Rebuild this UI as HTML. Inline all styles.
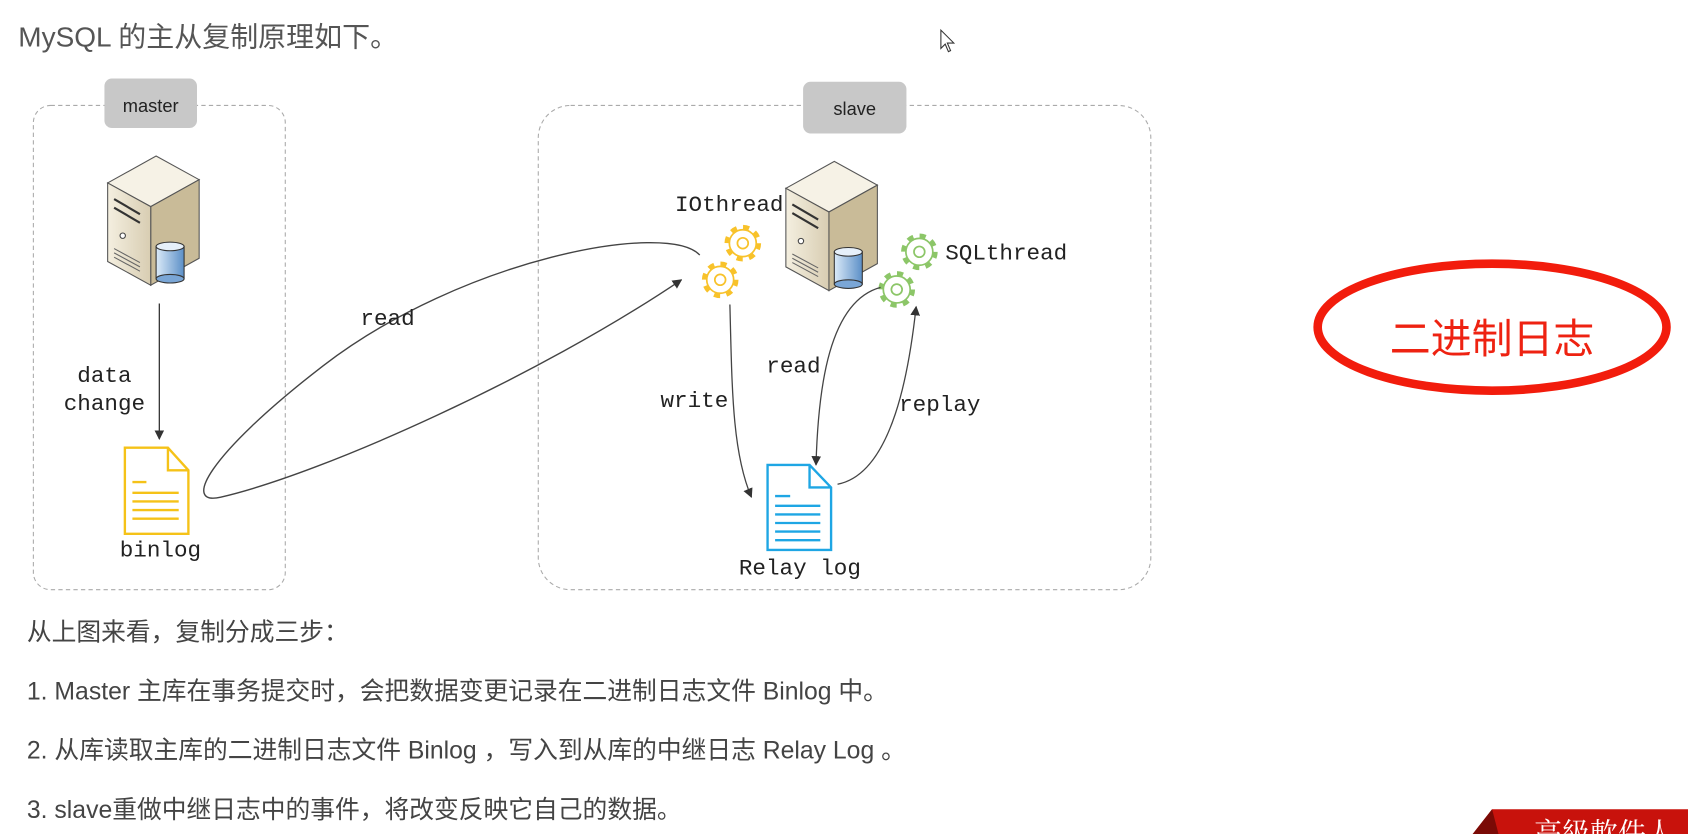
<!DOCTYPE html>
<html><head><meta charset="utf-8"><style>
html,body{margin:0;padding:0;background:#fff;}
svg{display:block;}
</style></head><body>
<svg width="1688" height="834" viewBox="0 0 1568 775" preserveAspectRatio="none" xmlns="http://www.w3.org/2000/svg">
<defs>
<marker id="ah" viewBox="0 0 10 10" refX="9" refY="5" markerWidth="9" markerHeight="9" orient="auto-start-reverse" markerUnits="userSpaceOnUse"><path d="M0,0 L10,5 L0,10 z" fill="#333"/></marker>
<linearGradient id="sv" x1="0" x2="1"><stop offset="0" stop-color="#f4efe0"/><stop offset="1" stop-color="#d8cdb2"/></linearGradient>
<linearGradient id="db" x1="0" x2="1"><stop offset="0" stop-color="#dbeaf8"/><stop offset="1" stop-color="#5b8fc7"/></linearGradient>
<g id="server">
<polygon points="0,25 45,0 85,22 40,47" fill="#f6f2e6" stroke="#555" stroke-width="1"/>
<polygon points="40,47 85,22 85,95 40,120" fill="#c9bb98" stroke="#555" stroke-width="1"/>
<polygon points="0,25 40,47 40,120 0,98" fill="url(#sv)" stroke="#555" stroke-width="1"/>
<path d="M6,40 L30,54 M6,48 L30,62" stroke="#333" stroke-width="2"/>
<circle cx="14" cy="74" r="2.5" fill="#fff" stroke="#444"/>
<path d="M6,86 L30,99 M6,90 L30,103 M6,94 L30,107" stroke="#666" stroke-width="1"/>
<rect x="45" y="84" width="26" height="30" fill="url(#db)" stroke="#333"/>
<ellipse cx="58" cy="114" rx="13" ry="4" fill="#7aa6d6" stroke="#333"/>
<ellipse cx="58" cy="84" rx="13" ry="4" fill="#e6f0fa" stroke="#333"/>
</g>
<g id="gear">
<circle r="15" fill="none" stroke="currentColor" stroke-width="4" stroke-dasharray="5.8 6"/>
<circle r="12.5" fill="#fff" stroke="currentColor" stroke-width="1.6"/>
<circle r="5" fill="none" stroke="currentColor" stroke-width="1.6"/>
</g>
</defs>

<text x="17" y="43" font-family="Liberation Sans, Noto Sans CJK SC, sans-serif" font-size="26" fill="#555">MySQL 的主从复制原理如下。</text>

<path d="M874,28 L874,45 L878,41 L881,48 L883,47 L880,40 L886,40 z" fill="#fff" stroke="#333" stroke-width="1"/>

<rect x="31" y="98" width="234" height="450" rx="16" fill="none" stroke="#aaa" stroke-width="1" stroke-dasharray="4 3"/>
<rect x="97" y="73" width="86" height="46" rx="7" fill="#c8c8c8"/>
<text x="140" y="104" text-anchor="middle" font-family="Liberation Sans, sans-serif" font-size="17" fill="#222">master</text>
<use href="#server" x="100" y="145"/>

<rect x="500" y="98" width="569" height="450" rx="30" fill="none" stroke="#aaa" stroke-width="1" stroke-dasharray="4 3"/>
<rect x="746" y="76" width="96" height="48" rx="7" fill="#c8c8c8"/>
<text x="794" y="107" text-anchor="middle" font-family="Liberation Sans, sans-serif" font-size="17" fill="#222">slave</text>
<use href="#server" x="730" y="150"/>

<path d="M116,416 L156,416 L175,437 L175,496 L116,496 z M156,416 L156,437 L175,437" fill="#fff" stroke="#f5c218" stroke-width="2.2"/>
<path d="M123,448 L136,448 M123,458 L166,458 M123,466 L166,466 M123,474 L166,474 M123,482 L166,482" stroke="#f5c218" stroke-width="2.2"/>
<text x="149" y="517" text-anchor="middle" font-family="Liberation Mono, monospace" font-size="21" fill="#222">binlog</text>

<path d="M713,432 L752,432 L772,453 L772,511 L713,511 z M752,432 L752,453 L772,453" fill="#fff" stroke="#1ea6e4" stroke-width="2.2"/>
<path d="M720,461 L734,461 M720,470 L762,470 M720,478 L762,478 M720,486 L762,486 M720,494 L762,494 M720,502 L762,502" stroke="#1ea6e4" stroke-width="2.2"/>
<text x="743" y="534" text-anchor="middle" font-family="Liberation Mono, monospace" font-size="21" fill="#222">Relay log</text>

<use href="#gear" x="690" y="226" color="#f8c22a"/>
<use href="#gear" x="669" y="260" color="#f8c22a"/>
<use href="#gear" x="854" y="234" color="#8cc668"/>
<use href="#gear" x="833" y="269" color="#8cc668"/>
<text x="627" y="196" font-family="Liberation Mono, monospace" font-size="21" fill="#222">IOthread</text>
<text x="878" y="241" font-family="Liberation Mono, monospace" font-size="21" fill="#222">SQLthread</text>

<line x1="148" y1="282" x2="148" y2="408" stroke="#333" stroke-width="1.2" marker-end="url(#ah)"/>
<text x="97" y="355" text-anchor="middle" font-family="Liberation Mono, monospace" font-size="21" fill="#222">data</text>
<text x="97" y="381" text-anchor="middle" font-family="Liberation Mono, monospace" font-size="21" fill="#222">change</text>

<path d="M650,237 C620,205 430,240 300,340 C190,425 170,470 205,462 C300,440 500,350 633,260" fill="none" stroke="#444" stroke-width="1.3" marker-end="url(#ah)"/>
<text x="360" y="302" text-anchor="middle" font-family="Liberation Mono, monospace" font-size="21" fill="#222">read</text>

<path d="M678,283 C680,360 680,420 698,462" fill="none" stroke="#444" stroke-width="1.2" marker-end="url(#ah)"/>
<text x="645" y="378" text-anchor="middle" font-family="Liberation Mono, monospace" font-size="21" fill="#222">write</text>

<path d="M818,267 C770,280 760,360 758,432" fill="none" stroke="#444" stroke-width="1.2" marker-end="url(#ah)"/>
<text x="737" y="346" text-anchor="middle" font-family="Liberation Mono, monospace" font-size="21" fill="#222">read</text>

<path d="M778,450 C830,440 845,340 851,285" fill="none" stroke="#444" stroke-width="1.2" marker-end="url(#ah)"/>
<text x="873" y="382" text-anchor="middle" font-family="Liberation Mono, monospace" font-size="21" fill="#222">replay</text>

<ellipse cx="1386" cy="304" rx="162" ry="59" fill="none" stroke="#f21c0c" stroke-width="8"/>
<text x="1386" y="328" text-anchor="middle" font-family="Noto Sans CJK SC, sans-serif" font-size="38" fill="#ee2211">二进制日志</text>

<g font-family="Liberation Sans, Noto Sans CJK SC, sans-serif" font-size="23" fill="#444">
<text x="25" y="595">从上图来看，复制分成三步：</text>
<text x="25" y="650">1.  Master 主库在事务提交时，会把数据变更记录在二进制日志文件 Binlog 中。</text>
<text x="25" y="705">2.  从库读取主库的二进制日志文件 Binlog ，写入到从库的中继日志 Relay Log 。</text>
<text x="25" y="760">3.  slave重做中继日志中的事件，将改变反映它自己的数据。</text>
</g>

<polygon points="1368,775 1386,752 1568,752 1568,775" fill="#c8120c"/>
<polygon points="1368,775 1386,752 1392,775" fill="#7a0a06"/>
<text x="1425" y="783" font-family="Noto Serif CJK SC, serif" font-size="26" fill="#fff">高級軟件人</text>
</svg>
</body></html>
